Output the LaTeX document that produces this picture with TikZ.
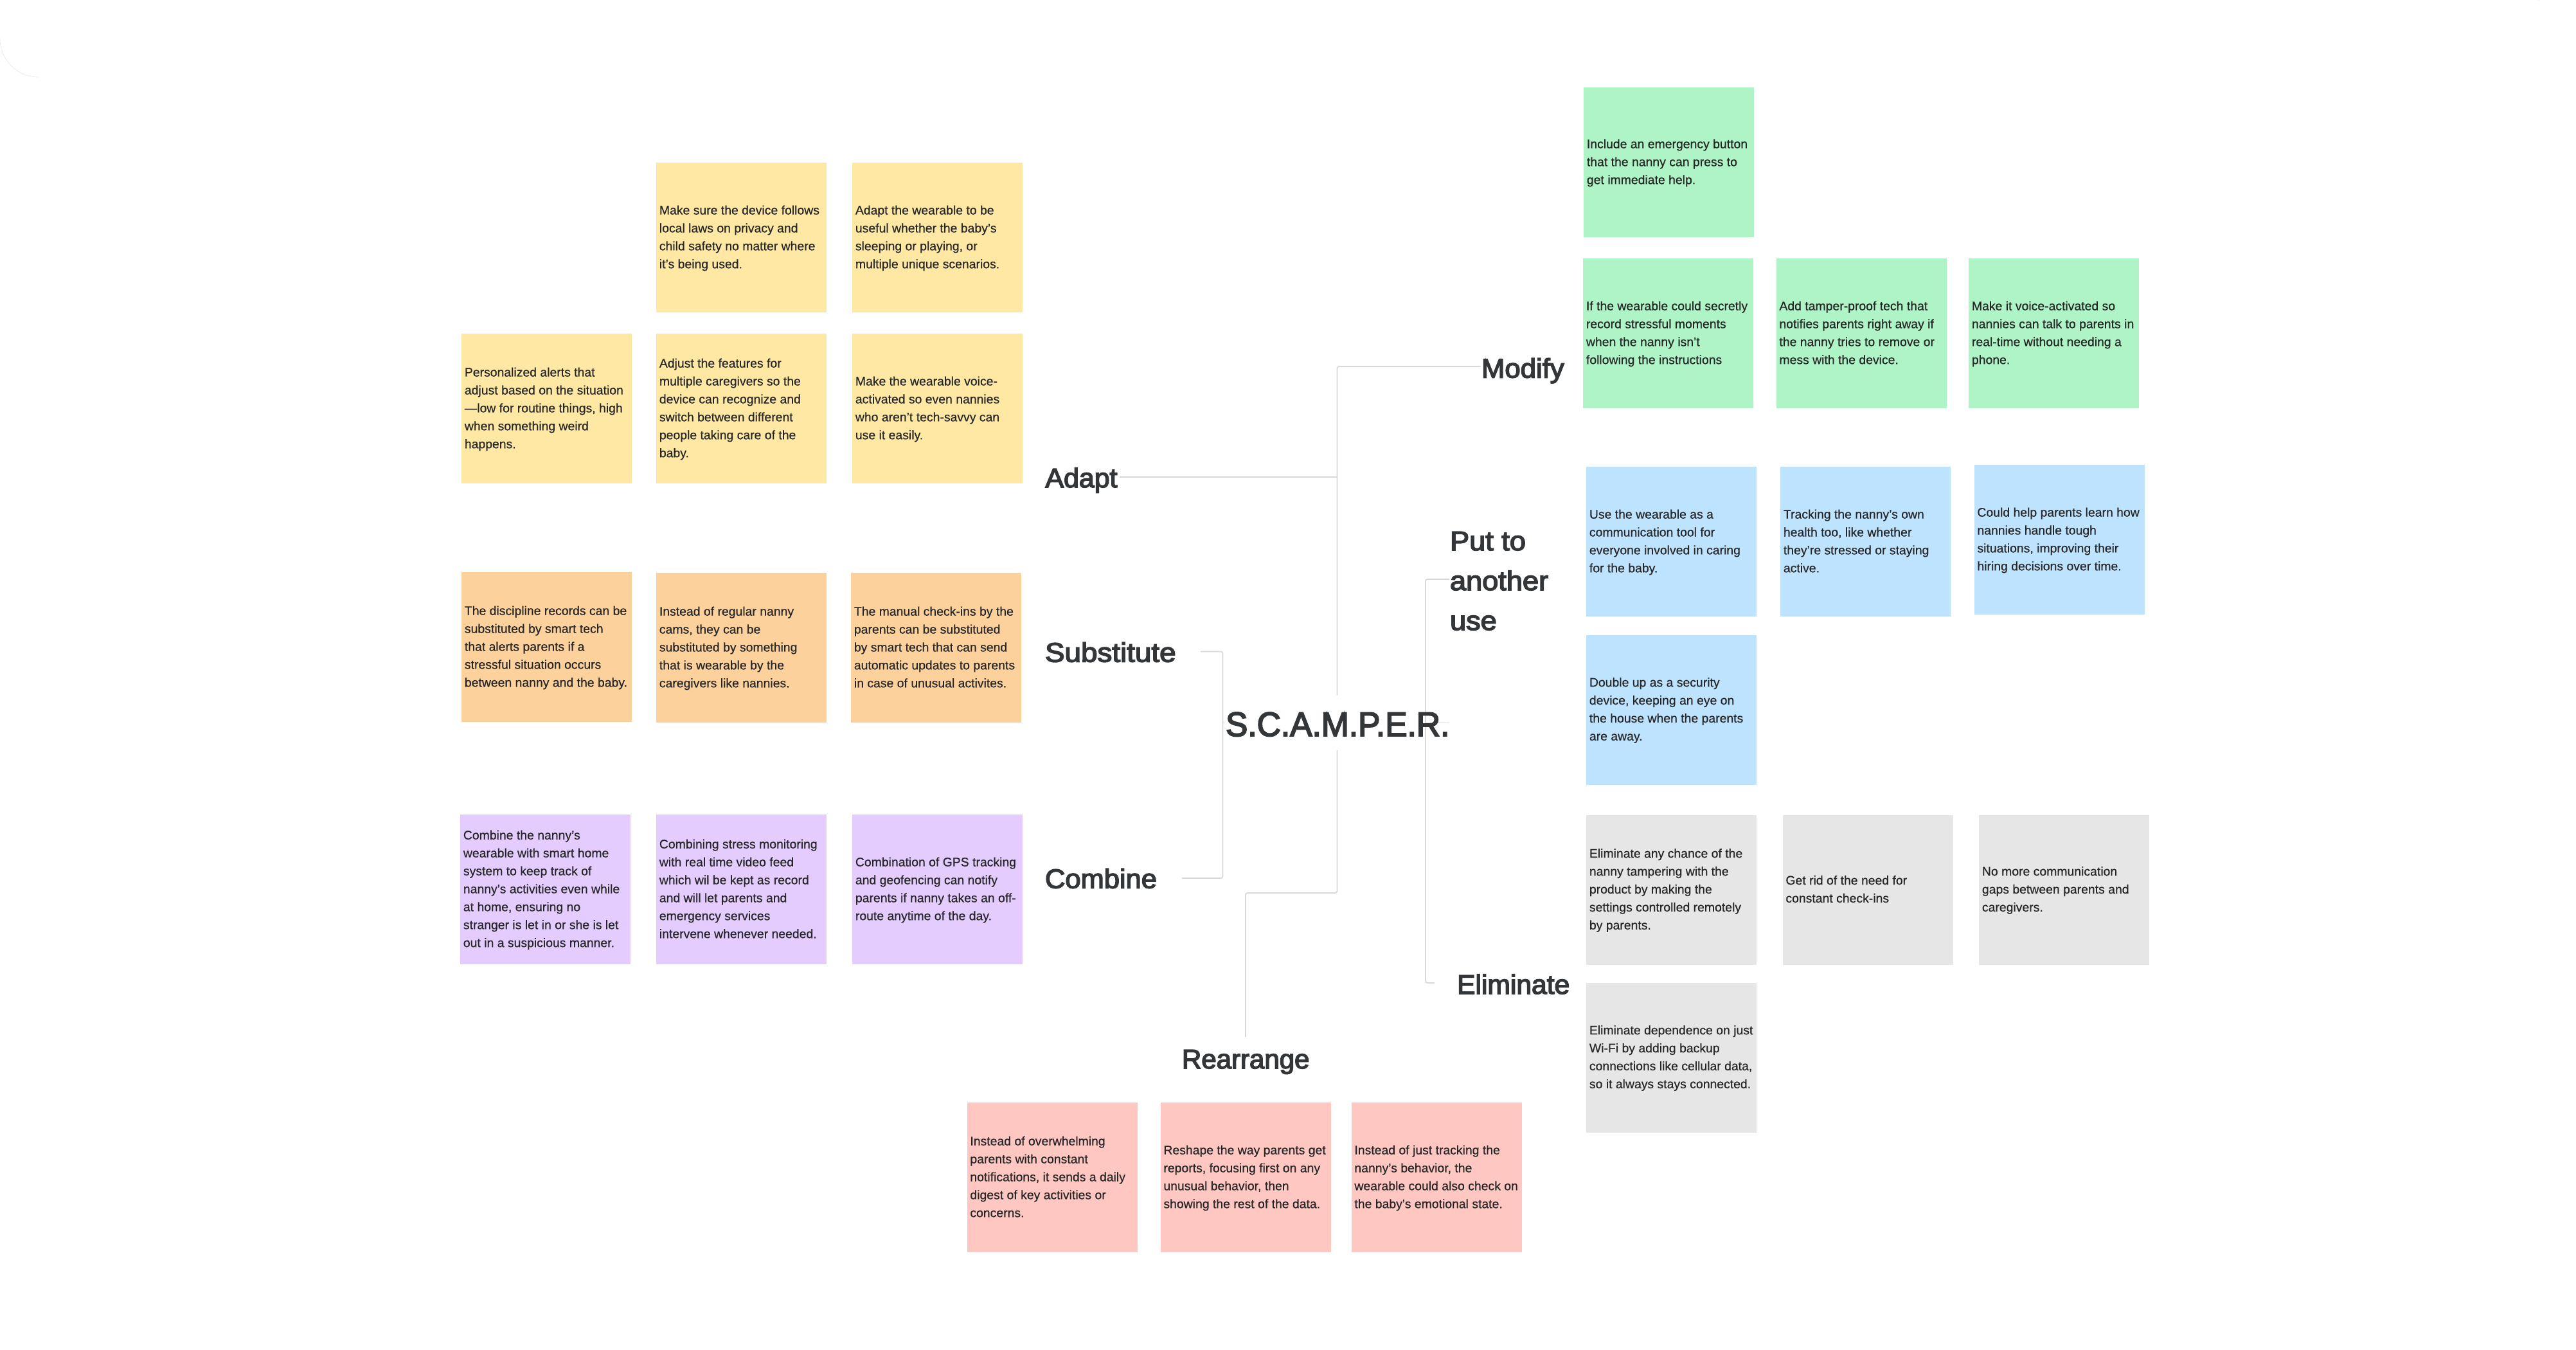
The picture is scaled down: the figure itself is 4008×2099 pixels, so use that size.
\documentclass[tikz,border=0pt]{standalone}
\usepackage{fontspec}
\usepackage{graphicx}
\setmainfont{Liberation Sans}
\newfontfamily\labfont[FakeBold=3.6]{Liberation Sans}
\newfontfamily\notefont[FakeBold=0.5]{Liberation Sans}
\usetikzlibrary{backgrounds}
\definecolor{cyellow}{HTML}{FFE8A3}
\definecolor{corange}{HTML}{FCD19C}
\definecolor{cpurple}{HTML}{E4CCFF}
\definecolor{cgreen}{HTML}{AFF4C6}
\definecolor{cblue}{HTML}{BDE3FF}
\definecolor{cgray}{HTML}{E6E6E6}
\definecolor{cpink}{HTML}{FFC7C2}
\definecolor{ink}{HTML}{262626}
\definecolor{labink}{HTML}{333638}
\definecolor{wire}{HTML}{D8D8D8}
\newcommand{\nt}[1]{\raisebox{-1pt}{\makebox[128pt][l]{\notefont\fontsize{9.7pt}{13.95pt}\selectfont\color{ink}\begin{tabular}{@{}l@{}}#1\end{tabular}}}}
\newcommand{\lab}[2]{\scalebox{#1}[1]{\labfont\fontsize{21pt}{31pt}\selectfont\color{labink}#2}}
\tikzset{
  x=0.5pt,y=-0.5pt,
  note/.style={rectangle,draw=none,fill=#1,inner xsep=2.25pt,inner ysep=0pt,minimum width=132.5pt,minimum height=116.5pt,anchor=north west},
  catlabel/.style={anchor=base west,inner sep=0pt,outer sep=0pt},
  conn/.style={draw=wire,line width=0.85pt,rounded corners=1.5pt}
}
\begin{document}
\begin{tikzpicture}
\useasboundingbox (0,0) rectangle (4008,2099);
% window corners
\draw[draw=black!10,line width=0.3pt] (0,60) arc[start angle=180,end angle=270,radius=30pt];
\draw[draw=black!10,line width=0.3pt] (3948,0) arc[start angle=-90,end angle=0,radius=30pt];
% labels
\node[catlabel] (hub) at (1907,1145) {\scalebox{0.972}[1]{\labfont\fontsize{26.5pt}{31pt}\selectfont\color{labink}S.C.A.M.P.E.R.}};
\node[catlabel] (adapt) at (1626.5,758) {\lab{1.02}{Adapt}};
\node[catlabel] (substitute) at (1626,1029.5) {\lab{1.09}{Substitute}};
\node[catlabel] (combine) at (1626,1381.5) {\lab{1.035}{Combine}};
\node[catlabel] (modify) at (2305,587.5) {\lab{1.04}{Modify}};
\node[catlabel] (putto1) at (2256,856) {\lab{1.075}{Put to}};
\node[catlabel] (putto2) at (2256,918) {\lab{1.075}{another}};
\node[catlabel] (putto3) at (2256,980) {\lab{1.075}{use}};
\node[catlabel] (eliminate) at (2267,1546) {\lab{1.015}{Eliminate}};
\node[catlabel] (rearrange) at (1839,1662) {\lab{1.0}{Rearrange}};
% junctions
\coordinate (hubN) at (2080.5,1081.5);
\coordinate (hubS) at (2080.5,1167);
\coordinate (adaptEnd) at (1742,742);
\coordinate (adaptJoin) at (2080.5,742);
\coordinate (modEnd) at (2303.5,570);
\coordinate (modTurn) at (2080.5,570);
\coordinate (subEnd) at (1868,1013.5);
\coordinate (subTurn) at (1902.5,1013.5);
\coordinate (comEnd) at (1839,1366);
\coordinate (comTurn) at (1902.5,1366);
\coordinate (reaTurn1) at (2080.5,1389);
\coordinate (reaTurn2) at (1938,1389);
\coordinate (reaEnd) at (1938,1613);
\coordinate (putEnd) at (2255,901);
\coordinate (putTurn) at (2218,901);
\coordinate (eliTurn) at (2218,1529);
\coordinate (eliEnd) at (2232,1529);
\coordinate (hubE) at (2255,1124.5);
\coordinate (hubEj) at (2218,1124.5);
\coordinate (hubW) at (1905,1123.5);
\coordinate (hubWj) at (1902.5,1123.5);
\begin{scope}[on background layer]
\draw[conn] (hubN) -- (modTurn) -- (modEnd);
\draw[conn] (adaptEnd) -- (adaptJoin);
\draw[conn] (hubS) -- (reaTurn1) -- (reaTurn2) -- (reaEnd);
\draw[conn] (subEnd) -- (subTurn) -- (comTurn) -- (comEnd);
\draw[conn] (hubW) -- (hubWj);
\draw[conn] (putEnd) -- (putTurn) -- (eliTurn) -- (eliEnd);
\draw[conn] (hubE) -- (hubEj);
\end{scope}
% Adapt
\node[note=cyellow] (a1) at (1021,253) {\nt{Make sure the device follows\\local laws on privacy and\\child safety no matter where\\it’s being used.}};
\node[note=cyellow] (a2) at (1326,253) {\nt{Adapt the wearable to be\\useful whether the baby’s\\sleeping or playing, or\\multiple unique scenarios.}};
\node[note=cyellow] (a3) at (718,519) {\nt{Personalized alerts that\\adjust based on the situation\\—low for routine things, high\\when something weird\\happens.}};
\node[note=cyellow] (a4) at (1021,519) {\nt{Adjust the features for\\multiple caregivers so the\\device can recognize and\\switch between different\\people taking care of the\\baby.}};
\node[note=cyellow] (a5) at (1326,519) {\nt{Make the wearable voice-\\activated so even nannies\\who aren’t tech-savvy can\\use it easily.}};
% Substitute
\node[note=corange] (s1) at (718,890) {\nt{The discipline records can be\\substituted by smart tech\\that alerts parents if a\\stressful situation occurs\\between nanny and the baby.}};
\node[note=corange] (s2) at (1021,891) {\nt{Instead of regular nanny\\cams, they can be\\substituted by something\\that is wearable by the\\caregivers like nannies.}};
\node[note=corange] (s3) at (1324,891) {\nt{The manual check-ins by the\\parents can be substituted\\by smart tech that can send\\automatic updates to parents\\in case of unusual activites.}};
% Combine
\node[note=cpurple] (c1) at (716,1267) {\nt{Combine the nanny’s\\wearable with smart home\\system to keep track of\\nanny’s activities even while\\at home, ensuring no\\stranger is let in or she is let\\out in a suspicious manner.}};
\node[note=cpurple] (c2) at (1021,1267) {\nt{Combining stress monitoring\\with real time video feed\\which wil be kept as record\\and will let parents and\\emergency services\\intervene whenever needed.}};
\node[note=cpurple] (c3) at (1326,1267) {\nt{Combination of GPS tracking\\and geofencing can notify\\parents if nanny takes an off-\\route anytime of the day.}};
% Modify
\node[note=cgreen] (m1) at (2464,136) {\nt{Include an emergency button\\that the nanny can press to\\get immediate help.}};
\node[note=cgreen] (m2) at (2463,402) {\nt{If the wearable could secretly\\record stressful moments\\when the nanny isn’t\\following the instructions}};
\node[note=cgreen] (m3) at (2763.5,402) {\nt{Add tamper-proof tech that\\notifies parents right away if\\the nanny tries to remove or\\mess with the device.}};
\node[note=cgreen] (m4) at (3063,402) {\nt{Make it voice-activated so\\nannies can talk to parents in\\real-time without needing a\\phone.}};
% Put to another use
\node[note=cblue] (p1) at (2468,726) {\nt{Use the wearable as a\\communication tool for\\everyone involved in caring\\for the baby.}};
\node[note=cblue] (p2) at (2770,726) {\nt{Tracking the nanny’s own\\health too, like whether\\they’re stressed or staying\\active.}};
\node[note=cblue] (p3) at (3071.5,723) {\nt{Could help parents learn how\\nannies handle tough\\situations, improving their\\hiring decisions over time.}};
\node[note=cblue] (p4) at (2468,987.5) {\nt{Double up as a security\\device, keeping an eye on\\the house when the parents\\are away.}};
% Eliminate
\node[note=cgray] (e1) at (2468,1267.5) {\nt{Eliminate any chance of the\\nanny tampering with the\\product by making the\\settings controlled remotely\\by parents.}};
\node[note=cgray] (e2) at (2773.5,1267.5) {\nt{Get rid of the need for\\constant check-ins}};
\node[note=cgray] (e3) at (3079,1267.5) {\nt{No more communication\\gaps between parents and\\caregivers.}};
\node[note=cgray] (e4) at (2468,1528.5) {\nt{Eliminate dependence on just\\Wi-Fi by adding backup\\connections like cellular data,\\so it always stays connected.}};
% Rearrange
\node[note=cpink] (r1) at (1504.5,1715) {\nt{Instead of overwhelming\\parents with constant\\notifications, it sends a daily\\digest of key activities or\\concerns.}};
\node[note=cpink] (r2) at (1805.5,1715) {\nt{Reshape the way parents get\\reports, focusing first on any\\unusual behavior, then\\showing the rest of the data.}};
\node[note=cpink] (r3) at (2102.5,1715) {\nt{Instead of just tracking the\\nanny’s behavior, the\\wearable could also check on\\the baby’s emotional state.}};
\end{tikzpicture}
\end{document}
